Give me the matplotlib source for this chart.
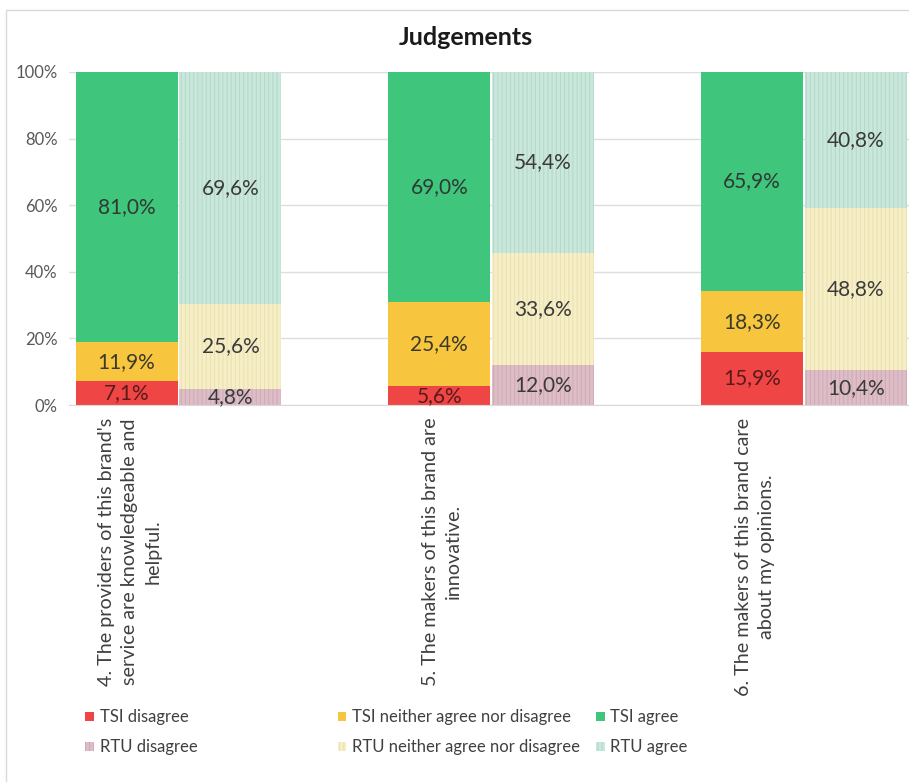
import numpy as np
import matplotlib.pyplot as plt
from matplotlib.patches import Patch, Rectangle
from matplotlib.ticker import PercentFormatter

plt.rcParams['font.family'] = ['Lato', 'DejaVu Sans']
plt.rcParams['hatch.linewidth'] = 0.7

# statements (x axis categories)
statements = [
    "4. The providers of this brand's\nservice are knowledgeable and\nhelpful.",
    "5. The makers of this brand are\ninnovative.",
    "6. The makers of this brand care\nabout my opinions.",
]

# TSI shares (%)
tsi_disagree = [7.1, 5.6, 15.9]
tsi_neutral = [11.9, 25.4, 18.3]
tsi_agree = [81.0, 69.0, 65.9]

# RTU shares (%)
rtu_disagree = [4.8, 12.0, 10.4]
rtu_neutral = [25.6, 33.6, 48.8]
rtu_agree = [69.6, 54.4, 40.8]

tsi_colors = ['#f04545', '#f8c63e', '#3fc57c']
rtu_colors = ['#ddbdc6', '#f6eec6', '#c9e7db']
rtu_stripes = ['#cfa9b5', '#ebe0ae', '#b2d8c8']
label_colors = ['#5a1a1a', '#3a3a2a', '#2f3a33']

fig = plt.figure(figsize=(9.09, 7.82), dpi=100)
ax = fig.add_axes([0.0759, 0.482, 0.929, 0.426])

x = np.arange(len(statements))
w = 0.326
off = 0.166

def pct(v):
    return f"{v:.1f}%".replace('.', ',')

bottom = np.zeros(len(x))
for vals, col, lc in zip([tsi_disagree, tsi_neutral, tsi_agree], tsi_colors, label_colors):
    bars = ax.bar(x - off, vals, w, bottom=bottom, color=col, linewidth=0, zorder=2)
    ax.bar_label(bars, labels=[pct(v) for v in vals], label_type='center',
                 fontsize=15, color=lc)
    bottom += np.array(vals)

bottom = np.zeros(len(x))
for vals, col, sc in zip([rtu_disagree, rtu_neutral, rtu_agree], rtu_colors, rtu_stripes):
    bars = ax.bar(x + off, vals, w, bottom=bottom, color=col, edgecolor=sc,
                  hatch='||||', linewidth=0, zorder=2)
    ax.bar_label(bars, labels=[pct(v) for v in vals], label_type='center',
                 fontsize=15, color='#3a3a3a')
    bottom += np.array(vals)

ax.set_xlim(-0.35, 2.35)
ax.set_ylim(0, 100)
ax.set_yticks(np.arange(0, 101, 20))
ax.yaxis.set_major_formatter(PercentFormatter(decimals=0))
ax.grid(axis='y', color='#dedede', linewidth=1, zorder=0)
ax.set_axisbelow(True)
for s in ['top', 'right', 'left']:
    ax.spines[s].set_visible(False)
ax.spines['bottom'].set_color('#d9d9d9')
ax.tick_params(axis='y', length=0, labelsize=12, labelcolor='#595959', pad=8)

ax.set_xticks(x - 0.157)
ax.set_xticklabels(statements, rotation=90, ha='center', va='top',
                   multialignment='center', fontsize=14.2, color='#404040',
                   linespacing=1.45)
ax.tick_params(axis='x', length=0, pad=9)

fig.text(0.512, 0.952, 'Judgements', ha='center', va='center',
         fontsize=18, fontweight='bold', color='#1a1a1a')

# legend: three columns, TSI on the first row and RTU on the second
names = ['disagree', 'neither agree nor disagree', 'agree']
col_x = [0.094, 0.372, 0.656]
for k in range(3):
    handles = [Patch(facecolor=tsi_colors[k], linewidth=0),
               Patch(facecolor=rtu_colors[k], edgecolor=rtu_stripes[k], hatch='||||', linewidth=0)]
    labels = ['TSI ' + names[k], 'RTU ' + names[k]]
    fig.legend(handles, labels, loc='upper left', bbox_to_anchor=(col_x[k], 0.093),
               frameon=False, fontsize=12, handlelength=0.5, handleheight=0.5,
               handletextpad=0.35, labelspacing=0.85, borderaxespad=0, borderpad=0,
               labelcolor='#404040')

fig.add_artist(Rectangle((0.0066, -0.01), 1.0, 0.997, transform=fig.transFigure,
                         fill=False, edgecolor='#d9d9d9', linewidth=1))

fig.savefig('out.png', dpi=100)
